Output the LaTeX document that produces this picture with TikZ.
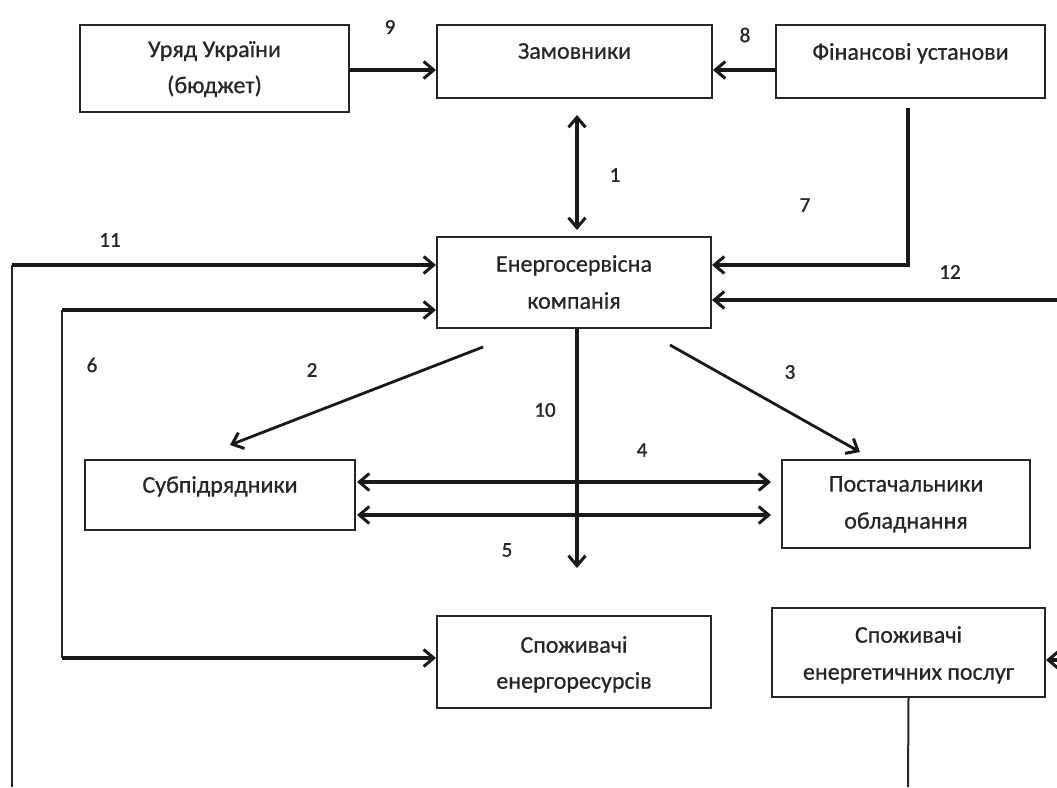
\documentclass[tikz,border=0pt]{standalone}
\usepackage{fontspec}
\setmainfont{Carlito}
\newfontfamily\numfont[FakeBold=1.2]{Carlito}
\newfontfamily\boxfont[FakeBold=0.6]{Carlito}
\usetikzlibrary{arrows.meta}
\begin{document}
\begin{tikzpicture}[x=1pt,y=-1pt,
  box/.style={draw=black!85,line width=2pt,rectangle,inner sep=0pt},
  txt/.style={anchor=north,inner sep=0pt,align=center,text=black!85,font=\boxfont\fontsize{24}{36}\selectfont},
  num/.style={inner sep=0pt,text=black!85,font=\numfont\fontsize{21}{24}\selectfont},
  arr/.style={line width=3.4pt,draw=black!90,-{Straight Barb[length=10pt,width=17pt,line width=3pt]}},
  darr/.style={line width=3.4pt,draw=black!90,{Straight Barb[length=10pt,width=17pt,line width=3pt]}-{Straight Barb[length=10pt,width=17pt,line width=3pt]}},
  thinln/.style={line width=2pt,draw=black!85}]
\useasboundingbox (0,0) rectangle (1057,787);
\fill[white] (0,0) rectangle (1057,787);

% boxes
\node[box,minimum width=269pt,minimum height=87pt] (uryad) at (214.5,68.5) {};
\node[box,minimum width=275pt,minimum height=73pt] (zam) at (574.5,61.5) {};
\node[box,minimum width=269pt,minimum height=73pt] (fin) at (910.5,61.5) {};
\node[box,minimum width=274pt,minimum height=91pt] (esco) at (574,282.5) {};
\node[box,minimum width=270pt,minimum height=70pt] (sub) at (220,495) {};
\node[box,minimum width=248pt,minimum height=88pt] (post) at (906,504) {};
\node[box,minimum width=274pt,minimum height=92pt] (spen) at (574,662) {};
\node[box,minimum width=273pt,minimum height=89pt] (spos) at (908.5,652.5) {};

% texts
\node[txt] (turyad) at ([yshift=-17pt]uryad.north) {Уряд України\\(бюджет)};
\node[txt] (tzam) at ([yshift=-19pt]zam.north) {Замовники};
\node[txt] (tfin) at ([yshift=-19pt]fin.north) {Фінансові установи};
\node[txt] (tesco) at ([yshift=-19pt]esco.north) {Енергосервісна\\[1pt]компанія};
\node[txt] (tsub) at ([yshift=-17pt]sub.north) {Субпідрядники};
\node[txt] (tpost) at ([yshift=-17pt]post.north) {Постачальники\\[1pt]обладнання};
\node[txt] (tspen) at ([yshift=-21pt]spen.north) {Споживачі\\енергоресурсів};
\node[txt] (tspos) at ([yshift=-19pt]spos.north) {Споживачі\\[1pt]енергетичних послуг};

% free ends
\coordinate (c9) at (349,70);
\coordinate (c8) at (776,70);
\coordinate (c11b) at (12,787);
\coordinate (c11) at (12,265);
\coordinate (c6a) at (62,310);
\coordinate (c6b) at (62,658);
\coordinate (c7) at (908,265);
\coordinate (c7a) at (908,108);
\coordinate (c12) at (1057,300);
\coordinate (c2a) at (483,347);
\coordinate (c2b) at (230,445);
\coordinate (c3a) at (670,345);
\coordinate (c3b) at (860,452);
\coordinate (c10) at (577,568);
\coordinate (c1a) at (577,115);
\coordinate (c1b) at (577,230);
\coordinate (cspos) at (1057,660);
\coordinate (cbot) at (908,787);
\coordinate (c4) at (357,482);
\coordinate (c5) at (357,515);

% connectors
\draw[arr] (c9) -- (zam.west |- c9);
\draw[arr] (c8) -- (zam.east |- c8);
\draw[darr,line width=3.8pt] (c1a) -- (c1b);
\draw[arr] (c7a) -- (c7) -- (esco.east |- c7);
\draw[arr] (c12) -- (esco.east |- c12);
\draw[thinln] (c11b) -- (c11);
\draw[arr] (c11) -- (esco.west |- c11);
\draw[arr] (c6a) -- (esco.west |- c6a);
\draw[thinln] (c6a) -- (c6b);
\draw[arr] (c6b) -- (spen.west |- c6b);
\draw[arr,line width=2.8pt] (c2a) -- (c2b);
\draw[arr,line width=2.8pt] (c3a) -- (c3b);
\draw[arr,line width=3.8pt] (esco.south -| c10) -- (c10);
\draw[darr] (c4) -- ([xshift=-10pt]post.west |- c4);
\draw[darr] (c5) -- ([xshift=-10pt]post.west |- c5);
\draw[arr] (cspos) -- (spos.east |- cspos);
\draw[thinln] (spos.south) -- (cbot);

% labels
\node[num] (l9) at (390,27) {9};
\node[num] (l8) at (745,35) {8};
\node[num] (l1) at (615,175) {1};
\node[num] (l7) at (805,205) {7};
\node[num] (l11) at (110,240) {11};
\node[num] (l12) at (950,272) {12};
\node[num] (l6) at (92,365) {6};
\node[num] (l2) at (312,370) {2};
\node[num] (l3) at (790,372) {3};
\node[num] (l10) at (545,410) {10};
\node[num] (l4) at (642,450) {4};
\node[num] (l5) at (507,550) {5};
\end{tikzpicture}
\end{document}
